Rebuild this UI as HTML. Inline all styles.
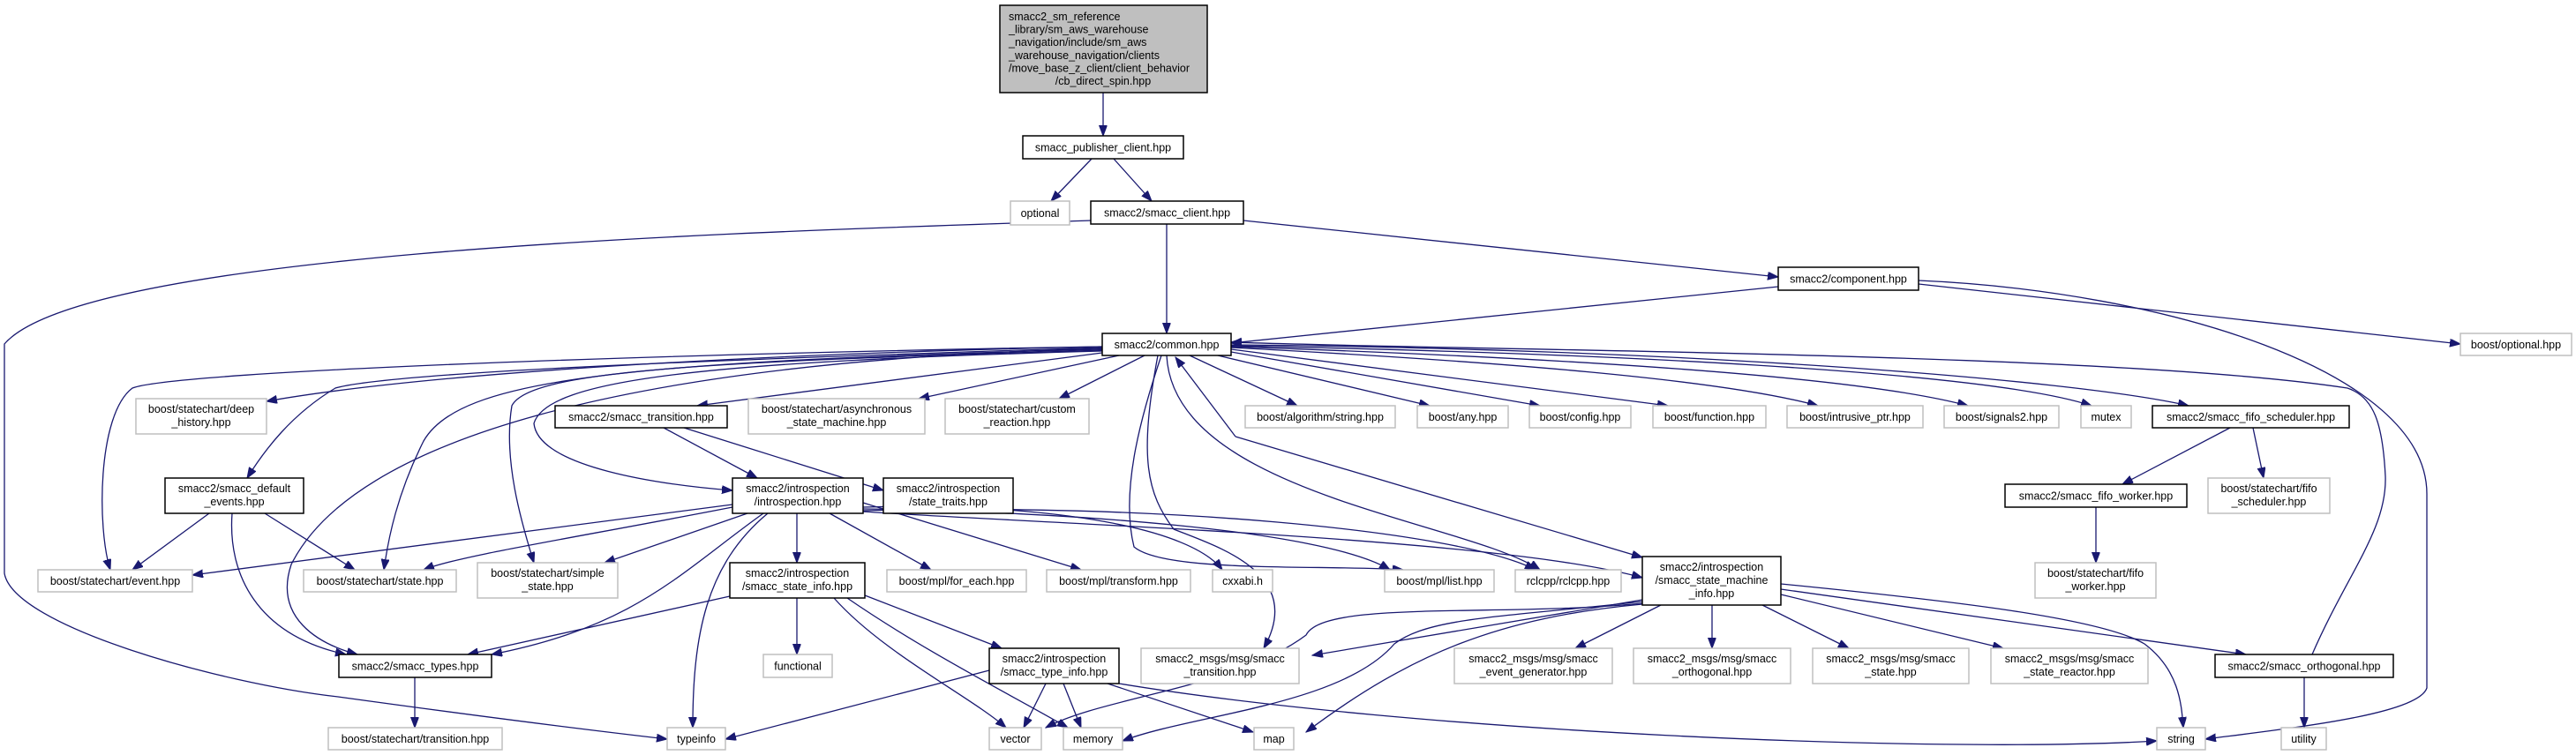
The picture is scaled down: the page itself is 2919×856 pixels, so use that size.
<!DOCTYPE html>
<html><head><meta charset="utf-8">
<style>
html,body{margin:0;padding:0;background:#fff;}
svg{display:block;}
text{font-family:"Liberation Sans",Arial,sans-serif;font-size:12.5px;fill:#000;}
.g{fill:#fff;stroke:#bfbfbf;stroke-width:1.5;}
.b{fill:#fff;stroke:#000;stroke-width:1.5;}
.e{fill:none;stroke:#191970;stroke-width:1.3;}
</style></head><body>
<svg width="2919" height="856" viewBox="0 0 2919 856" xmlns="http://www.w3.org/2000/svg">
<defs>
<marker id="a" markerUnits="userSpaceOnUse" markerWidth="13" markerHeight="10" refX="12" refY="4.5" orient="auto">
<path d="M0,0 L12,4.5 L0,9 z" fill="#191970" stroke="#191970"/>
</marker>
</defs>
<g class="e" marker-end="url(#a)">
<path d="M1250,105 L1250,154"/>
<path d="M1237,180 L1191,228"/>
<path d="M1262,180 L1305,228"/>
<path d="M1322,254 L1322,378"/>
<path d="M1236,250 C900,262 100,280 5,390 L5,650 C15,710 250,775 383,790 Q600,820 756,838"/>
<path d="M1409,250 L2015,314"/>
<path d="M2015,325 L1395,389"/>
<path d="M2174,322 L2788,390"/>
<path d="M2174,318 C2450,330 2750,420 2750,560 L2750,780 C2740,810 2600,825 2499,838"/>
<!-- common out -->
<path d="M1249,393 C900,400 500,420 302,455"/>
<path d="M1249,393 C800,400 200,420 150,440 C110,470 110,600 125,646"/>
<path d="M1249,394 C900,405 450,420 380,440 C330,470 300,510 280,542"/>
<path d="M1249,395 C700,410 400,500 330,640 C310,700 360,730 405,742"/>
<path d="M1249,396 C700,410 520,430 480,500 C450,560 440,610 435,646"/>
<path d="M1249,397 C800,410 600,420 580,460 C570,520 590,590 605,638"/>
<path d="M1249,398 C800,410 620,430 605,480 C610,530 750,550 830,556"/>
<path d="M1249,400 L790,460"/>
<path d="M1268,403 L1041,452"/>
<path d="M1297,403 L1200,452"/>
<path d="M1348,403 L1470,460"/>
<path d="M1380,403 L1620,460"/>
<path d="M1395,399 L1745,460"/>
<path d="M1395,396 L1890,460"/>
<path d="M1395,394 C1700,410 1950,430 2060,460"/>
<path d="M1395,393 C1750,405 2100,425 2230,460"/>
<path d="M1395,392 C1800,400 2250,420 2370,460"/>
<path d="M1395,391 C1900,395 2350,430 2480,460"/>
<path d="M1316,403 C1290,480 1270,560 1285,620 C1320,650 1500,640 1590,646"/>
<path d="M1312,403 C1290,520 1300,560 1330,600 C1380,620 1480,650 1432,735"/>
<path d="M1322,403 C1330,560 1660,590 1745,646"/>
<path d="M1400,495 L1861,632"/>
<path d="M2620,742 C2660,650 2705,600 2703,540 C2700,480 2690,450 2660,440 C2400,400 1700,398 1395,388"/>
<path d="M1400,495 L1332,405"/>
<!-- transition / default events -->
<path d="M752,485 L858,542"/>
<path d="M775,485 L1001,556"/>
<path d="M237,582 L150,646"/>
<path d="M300,582 L402,646"/>
<path d="M263,582 C258,650 290,720 392,742"/>
<!-- introspection out -->
<path d="M830,572 L218,652"/>
<path d="M830,575 C650,610 520,630 480,646"/>
<path d="M847,582 L685,638"/>
<path d="M865,582 C770,650 720,710 557,742"/>
<path d="M903,582 L903,638"/>
<path d="M870,582 C800,640 785,720 785,825"/>
<path d="M940,582 L1055,646"/>
<path d="M978,570 L1225,646"/>
<path d="M978,575 C1200,570 1350,600 1385,646"/>
<path d="M978,577 C1200,580 1500,600 1575,646"/>
<path d="M978,579 C1300,570 1650,600 1740,646"/>
<path d="M978,580 C1200,595 1700,610 1861,655"/>
<!-- state_info -->
<path d="M827,676 L530,742"/>
<path d="M903,678 L903,742"/>
<path d="M980,675 L1135,735"/>
<path d="M945,678 C1000,740 1100,790 1140,825"/>
<path d="M960,678 C1050,740 1150,790 1210,825"/>
<!-- type_info -->
<path d="M1121,760 L822,838"/>
<path d="M1185,775 L1160,825"/>
<path d="M1205,775 L1225,825"/>
<path d="M1255,775 L1420,830"/>
<path d="M1268,775 C1600,830 2200,855 2444,840"/>
<!-- state machine info -->
<path d="M1861,680 L1487,743"/>
<path d="M1861,684 C1700,700 1500,680 1480,720 C1400,780 1250,790 1185,825"/>
<path d="M1861,682 C1700,700 1620,700 1580,730 C1520,800 1350,810 1272,840"/>
<path d="M1861,685 C1700,700 1600,740 1480,830"/>
<path d="M1882,686 L1785,735"/>
<path d="M1940,686 L1940,735"/>
<path d="M1997,686 L2095,735"/>
<path d="M2018,674 L2270,735"/>
<path d="M2018,668 L2545,742"/>
<path d="M2018,662 C2200,680 2380,700 2430,730 C2470,760 2472,800 2474,825"/>
<!-- fifo -->
<path d="M2527,485 L2405,549"/>
<path d="M2553,485 L2565,542"/>
<path d="M2375,575 L2375,638"/>
<path d="M2611,768 L2611,825"/>
<path d="M470,768 L470,825"/>
</g>

<!-- nodes -->
<rect x="1133" y="6" width="235" height="99" fill="#bfbfbf" stroke="#000" stroke-width="1.5"/>
<text x="1143" y="23">smacc2_sm_reference</text>
<text x="1143" y="37.6">_library/sm_aws_warehouse</text>
<text x="1143" y="52.2">_navigation/include/sm_aws</text>
<text x="1143" y="66.8">_warehouse_navigation/clients</text>
<text x="1143" y="81.4">/move_base_z_client/client_behavior</text>
<text x="1250" y="96" text-anchor="middle">/cb_direct_spin.hpp</text>

<g text-anchor="middle">
<rect class="b" x="1159" y="154" width="182" height="26"/><text x="1250" y="171.5">smacc_publisher_client.hpp</text>
<rect class="g" x="1145" y="228" width="67" height="27"/><text x="1178.5" y="246">optional</text>
<rect class="b" x="1236" y="228" width="173" height="26"/><text x="1322.5" y="245.5">smacc2/smacc_client.hpp</text>
<rect class="b" x="1249" y="378" width="146" height="25"/><text x="1322" y="395">smacc2/common.hpp</text>
<rect class="b" x="2015" y="303" width="159" height="26"/><text x="2094.5" y="320.5">smacc2/component.hpp</text>
<rect class="g" x="2788" y="378" width="126" height="25"/><text x="2851" y="395">boost/optional.hpp</text>

<rect class="g" x="154" y="452" width="148" height="40"/><text x="228" y="468">boost/statechart/deep</text><text x="228" y="483">_history.hpp</text>
<rect class="b" x="629" y="460" width="195" height="25"/><text x="726.5" y="477">smacc2/smacc_transition.hpp</text>
<rect class="g" x="848" y="452" width="200" height="40"/><text x="948" y="468">boost/statechart/asynchronous</text><text x="948" y="483">_state_machine.hpp</text>
<rect class="g" x="1071" y="452" width="163" height="40"/><text x="1152.5" y="468">boost/statechart/custom</text><text x="1152.5" y="483">_reaction.hpp</text>
<rect class="g" x="1411" y="460" width="170" height="25"/><text x="1496" y="477">boost/algorithm/string.hpp</text>
<rect class="g" x="1606" y="460" width="103" height="25"/><text x="1657.5" y="477">boost/any.hpp</text>
<rect class="g" x="1733" y="460" width="115" height="25"/><text x="1790.5" y="477">boost/config.hpp</text>
<rect class="g" x="1873" y="460" width="128" height="25"/><text x="1937" y="477">boost/function.hpp</text>
<rect class="g" x="2025" y="460" width="154" height="25"/><text x="2102" y="477">boost/intrusive_ptr.hpp</text>
<rect class="g" x="2203" y="460" width="130" height="25"/><text x="2268" y="477">boost/signals2.hpp</text>
<rect class="g" x="2358" y="460" width="57" height="25"/><text x="2386.5" y="477">mutex</text>
<rect class="b" x="2439" y="460" width="223" height="25"/><text x="2550.5" y="477">smacc2/smacc_fifo_scheduler.hpp</text>

<rect class="b" x="187" y="542" width="157" height="40"/><text x="265.5" y="558">smacc2/smacc_default</text><text x="265.5" y="573">_events.hpp</text>
<rect class="b" x="830" y="542" width="148" height="40"/><text x="904" y="558">smacc2/introspection</text><text x="904" y="573">/introspection.hpp</text>
<rect class="b" x="1001" y="542" width="147" height="40"/><text x="1074.5" y="558">smacc2/introspection</text><text x="1074.5" y="573">/state_traits.hpp</text>
<rect class="b" x="2272" y="549" width="206" height="26"/><text x="2375" y="566.5">smacc2/smacc_fifo_worker.hpp</text>
<rect class="g" x="2502" y="542" width="138" height="40"/><text x="2571" y="558">boost/statechart/fifo</text><text x="2571" y="573">_scheduler.hpp</text>

<rect class="g" x="43" y="646" width="175" height="25"/><text x="130.5" y="663">boost/statechart/event.hpp</text>
<rect class="g" x="344" y="646" width="173" height="25"/><text x="430.5" y="663">boost/statechart/state.hpp</text>
<rect class="g" x="541" y="638" width="159" height="40"/><text x="620.5" y="654">boost/statechart/simple</text><text x="620.5" y="669">_state.hpp</text>
<rect class="b" x="827" y="638" width="153" height="40"/><text x="903.5" y="654">smacc2/introspection</text><text x="903.5" y="669">/smacc_state_info.hpp</text>
<rect class="g" x="1005" y="646" width="158" height="25"/><text x="1084" y="663">boost/mpl/for_each.hpp</text>
<rect class="g" x="1186" y="646" width="163" height="25"/><text x="1267.5" y="663">boost/mpl/transform.hpp</text>
<rect class="g" x="1374" y="646" width="68" height="25"/><text x="1408" y="663">cxxabi.h</text>
<rect class="g" x="1569" y="646" width="124" height="25"/><text x="1631" y="663">boost/mpl/list.hpp</text>
<rect class="g" x="1717" y="646" width="120" height="25"/><text x="1777" y="663">rclcpp/rclcpp.hpp</text>
<rect class="b" x="1861" y="631" width="157" height="55"/><text x="1939.5" y="647">smacc2/introspection</text><text x="1939.5" y="662">/smacc_state_machine</text><text x="1939.5" y="677">_info.hpp</text>
<rect class="g" x="2306" y="638" width="137" height="40"/><text x="2374.5" y="654">boost/statechart/fifo</text><text x="2374.5" y="669">_worker.hpp</text>

<rect class="b" x="384" y="742" width="173" height="26"/><text x="470.5" y="759.5">smacc2/smacc_types.hpp</text>
<rect class="g" x="865" y="742" width="78" height="26"/><text x="904" y="759.5">functional</text>
<rect class="b" x="1121" y="735" width="147" height="40"/><text x="1194.5" y="751">smacc2/introspection</text><text x="1194.5" y="766">/smacc_type_info.hpp</text>
<rect class="g" x="1293" y="735" width="179" height="40"/><text x="1382.5" y="751">smacc2_msgs/msg/smacc</text><text x="1382.5" y="766">_transition.hpp</text>
<rect class="g" x="1648" y="735" width="179" height="40"/><text x="1737.5" y="751">smacc2_msgs/msg/smacc</text><text x="1737.5" y="766">_event_generator.hpp</text>
<rect class="g" x="1851" y="735" width="178" height="40"/><text x="1940" y="751">smacc2_msgs/msg/smacc</text><text x="1940" y="766">_orthogonal.hpp</text>
<rect class="g" x="2054" y="735" width="177" height="40"/><text x="2142.5" y="751">smacc2_msgs/msg/smacc</text><text x="2142.5" y="766">_state.hpp</text>
<rect class="g" x="2256" y="735" width="178" height="40"/><text x="2345" y="751">smacc2_msgs/msg/smacc</text><text x="2345" y="766">_state_reactor.hpp</text>
<rect class="b" x="2510" y="742" width="202" height="26"/><text x="2611" y="759.5">smacc2/smacc_orthogonal.hpp</text>

<rect class="g" x="372" y="825" width="197" height="25"/><text x="470.5" y="842">boost/statechart/transition.hpp</text>
<rect class="g" x="756" y="825" width="66" height="25"/><text x="789" y="842">typeinfo</text>
<rect class="g" x="1121" y="825" width="59" height="25"/><text x="1150.5" y="842">vector</text>
<rect class="g" x="1205" y="825" width="67" height="25"/><text x="1238.5" y="842">memory</text>
<rect class="g" x="1421" y="825" width="45" height="25"/><text x="1443.5" y="842">map</text>
<rect class="g" x="2444" y="825" width="55" height="25"/><text x="2471.5" y="842">string</text>
<rect class="g" x="2585" y="825" width="51" height="25"/><text x="2610.5" y="842">utility</text>
</g>
</svg>
</body></html>
